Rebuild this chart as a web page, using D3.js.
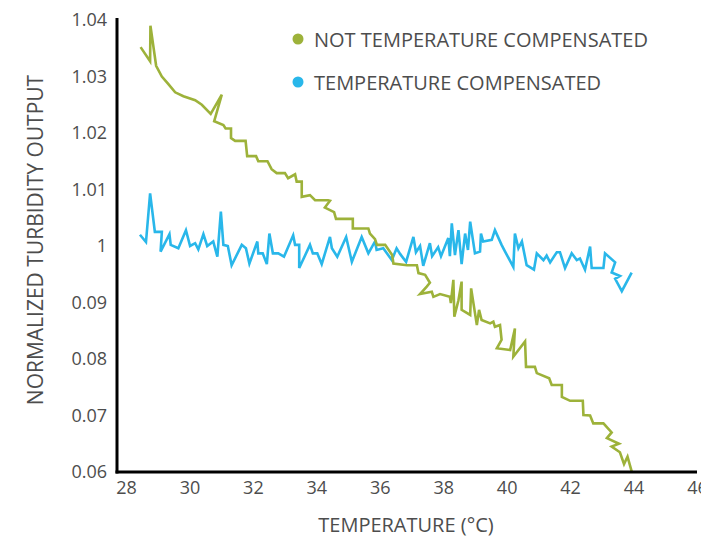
<!DOCTYPE html>
<html>
<head>
<meta charset="utf-8">
<script src="https://cdn.jsdelivr.net/npm/d3@7"></script>
<style>
  body { margin: 0; background: #fff; }
  text { font-family: "Open Sans", sans-serif; fill: #4d4d4d; }
</style>
</head>
<body>
<div id="chart"></div>
<script>
// series
var tempNotComp = [28.46, 28.76, 28.77, 28.95, 29.13, 29.33, 29.55, 29.81, 30.18, 30.39,
  30.67, 31.02, 30.78, 31.07, 31.14, 31.31, 31.31, 31.44, 31.77, 31.82,
  32.10, 32.17, 32.46, 32.59, 32.75, 33.01, 33.11, 33.33, 33.38, 33.54,
  33.54, 33.80, 33.96, 34.37, 34.43, 34.27, 34.56, 34.62, 35.15, 35.15,
  35.64, 35.69, 35.85, 35.91, 36.17, 36.39, 36.43, 36.86, 37.17, 37.22,
  37.43, 37.58, 37.48, 37.27, 37.64, 37.69, 37.90, 38.21, 38.24, 38.32,
  38.35, 38.48, 38.58, 38.58, 38.85, 38.88, 39.06, 39.13, 39.21, 39.48,
  39.58, 39.63, 39.79, 39.84, 39.69, 40.11, 40.26, 40.21, 40.58, 40.61,
  40.89, 40.95, 41.34, 41.42, 41.74, 41.74, 42.00, 42.40, 42.42, 42.63,
  42.73, 43.05, 43.31, 43.16, 43.54, 43.31, 43.57, 43.70, 43.81, 43.94];
var outNotComp = [1.0352, 1.0327, 1.0390, 1.0319, 1.0300, 1.0287, 1.0272, 1.0265, 1.0258, 1.0250,
  1.0234, 1.0268, 1.0221, 1.0214, 1.0208, 1.0208, 1.0191, 1.0186, 1.0186, 1.0159,
  1.0159, 1.0150, 1.0150, 1.0136, 1.0129, 1.0129, 1.0120, 1.0127, 1.0114, 1.0114,
  1.0087, 1.0090, 1.0081, 1.0081, 1.0080, 1.0068, 1.0060, 1.0048, 1.0048, 1.0031,
  1.0031, 1.0022, 1.0012, 1.0002, 1.0002, 0.9984, 0.9969, 0.9966, 0.9966, 0.9952,
  0.9949, 0.9935, 0.9928, 0.9915, 0.9919, 0.9910, 0.9915, 0.9910, 0.9899, 0.9940,
  0.9875, 0.9904, 0.9937, 0.9887, 0.9878, 0.9925, 0.9860, 0.9887, 0.9869, 0.9863,
  0.9866, 0.9857, 0.9860, 0.9834, 0.9819, 0.9816, 0.9854, 0.9804, 0.9831, 0.9786,
  0.9786, 0.9775, 0.9766, 0.9754, 0.9754, 0.9733, 0.9726, 0.9726, 0.9701, 0.9700,
  0.9686, 0.9686, 0.9670, 0.9660, 0.9650, 0.9645, 0.9635, 0.9614, 0.9627, 0.9601];

var tempComp = [28.44, 28.63, 28.76, 28.91, 29.13, 29.09, 29.37, 29.41, 29.65, 29.89,
  30.02, 30.18, 30.28, 30.44, 30.56, 30.75, 30.88, 30.99, 31.07, 31.21,
  31.33, 31.65, 31.78, 31.89, 32.14, 32.17, 32.31, 32.44, 32.52, 32.63,
  32.80, 32.98, 33.27, 33.33, 33.46, 33.46, 33.80, 33.89, 34.03, 34.17,
  34.43, 34.49, 34.66, 34.94, 35.12, 35.43, 35.64, 35.85, 35.90, 36.11,
  36.38, 36.53, 36.64, 36.83, 37.06, 37.14, 37.27, 37.37, 37.58, 37.65,
  37.84, 37.93, 38.16, 38.21, 38.27, 38.37, 38.48, 38.58, 38.69, 38.78,
  38.85, 39.00, 39.16, 39.19, 39.26, 39.53, 39.63, 39.84, 39.95, 40.21,
  40.26, 40.37, 40.48, 40.63, 40.86, 40.95, 41.16, 41.26, 41.37, 41.58,
  41.68, 41.84, 42.05, 42.21, 42.31, 42.47, 42.63, 42.68, 43.05, 43.10,
  43.42, 43.31, 43.57, 43.42, 43.63, 43.94];
var outComp = [1.0020, 1.0007, 1.0093, 1.0025, 1.0025, 0.9990, 1.0021, 1.0002, 0.9996, 1.0028,
  1.0000, 1.0005, 0.9994, 1.0021, 1.0000, 1.0008, 0.9981, 1.0061, 1.0002, 1.0000,
  0.9966, 1.0002, 0.9996, 0.9969, 1.0008, 0.9987, 0.9987, 0.9968, 1.0022, 0.9987,
  0.9987, 0.9981, 1.0019, 1.0002, 1.0002, 0.9961, 1.0002, 0.9987, 0.9987, 0.9968,
  1.0016, 0.9996, 0.9981, 1.0016, 0.9972, 1.0016, 0.9987, 1.0008, 0.9993, 0.9996,
  0.9975, 0.9996, 0.9986, 0.9972, 1.0016, 0.9989, 1.0000, 0.9965, 1.0005, 0.9982,
  0.9998, 0.9982, 1.0014, 0.9982, 1.0040, 0.9984, 1.0028, 0.9968, 1.0022, 0.9993,
  1.0043, 0.9987, 0.9990, 1.0022, 1.0008, 1.0011, 1.0028, 1.0002, 0.9990, 0.9963,
  1.0022, 0.9996, 1.0008, 0.9966, 0.9958, 0.9987, 0.9975, 0.9983, 0.9971, 0.9989,
  0.9989, 0.9961, 0.9987, 0.9975, 0.9978, 0.9958, 0.9999, 0.9961, 0.9961, 0.9987,
  0.9971, 0.9953, 0.9947, 0.9942, 0.9920, 0.9953];

var seriesNames = ["NOT TEMPERATURE COMPENSATED", "TEMPERATURE COMPENSATED"];
var xTickValues = [28, 30, 32, 34, 36, 38, 40, 42, 44, 46];
var yTickValues = [0.96, 0.97, 0.98, 0.99, 1.00, 1.01, 1.02, 1.03, 1.04];
// labels exactly as printed on the original chart
var yTickLabels = ["0.06", "0.07", "0.08", "0.09", "1", "1.01", "1.02", "1.03", "1.04"];

var width = 701, height = 537;
var axisLeftX = 117;
var colors = ["#9db23a", "#29b7ea"];

var svg = d3.select("#chart").append("svg")
    .attr("width", width)
    .attr("height", height);

var x = d3.scaleLinear()
    .domain([28, 46])
    .range([126, 697]);

var y = d3.scaleLinear()
    .domain([0.96, 1.04])
    .range([472, 20]);

// build point lists from the arrays
var notComp = tempNotComp.map(function(t, i){ return {t: t, v: outNotComp[i]}; });
var comp = tempComp.map(function(t, i){ return {t: t, v: outComp[i]}; });

var line = d3.line()
    .x(function(d){ return x(d.t); })
    .y(function(d){ return y(d.v); });

svg.append("path")
    .datum(comp)
    .attr("d", line)
    .attr("fill", "none")
    .attr("stroke", colors[1])
    .attr("stroke-width", 2.6)
    .attr("stroke-linejoin", "miter");

svg.append("path")
    .datum(notComp)
    .attr("d", line)
    .attr("fill", "none")
    .attr("stroke", colors[0])
    .attr("stroke-width", 2.6)
    .attr("stroke-linejoin", "miter");

// axes, no tick marks
var gx = svg.append("g")
    .attr("transform", "translate(0," + y(0.96) + ")")
    .call(d3.axisBottom(x).tickValues(xTickValues).tickSize(0).tickPadding(9));
gx.select(".domain").remove();
gx.selectAll("text")
    .attr("font-size", 18)
    .attr("font-family", null)
    .attr("fill", null);

var labelOf = {};
yTickValues.forEach(function(v, i){ labelOf[v.toFixed(2)] = yTickLabels[i]; });

var gy = svg.append("g")
    .attr("transform", "translate(" + axisLeftX + ",0)")
    .call(d3.axisLeft(y).tickValues(yTickValues).tickSize(0).tickPadding(10)
      .tickFormat(function(d){ return labelOf[d.toFixed(2)]; }));
gy.select(".domain").remove();
gy.selectAll("text")
    .attr("font-size", 18)
    .attr("font-family", null)
    .attr("fill", null);

// the black axis lines
svg.append("line")
    .attr("x1", axisLeftX).attr("x2", axisLeftX)
    .attr("y1", y(1.04) - 2).attr("y2", y(0.96) + 1.5)
    .attr("stroke", "#000").attr("stroke-width", 3);
svg.append("line")
    .attr("x1", axisLeftX - 1.5).attr("x2", x(46))
    .attr("y1", y(0.96)).attr("y2", y(0.96))
    .attr("stroke", "#000").attr("stroke-width", 3);

// axis titles
svg.append("text")
    .attr("x", 406)
    .attr("y", 532)
    .attr("text-anchor", "middle")
    .attr("font-size", 20)
    .text("TEMPERATURE (°C)");

svg.append("text")
    .attr("transform", "translate(43,240) rotate(-90)")
    .attr("text-anchor", "middle")
    .attr("font-size", 21)
    .text("NORMALIZED TURBIDITY OUTPUT");

// legend
var legend = svg.selectAll(".legend")
    .data(seriesNames)
    .enter().append("g")
    .attr("class", "legend")
    .attr("transform", function(d, i){ return "translate(298," + (39 + i * 43) + ")"; });

legend.append("circle")
    .attr("r", 5.5)
    .attr("fill", function(d, i){ return colors[i]; });

legend.append("text")
    .attr("x", 16)
    .attr("y", 7.5)
    .attr("font-size", 20)
    .text(function(d){ return d; });
</script>
</body>
</html>
